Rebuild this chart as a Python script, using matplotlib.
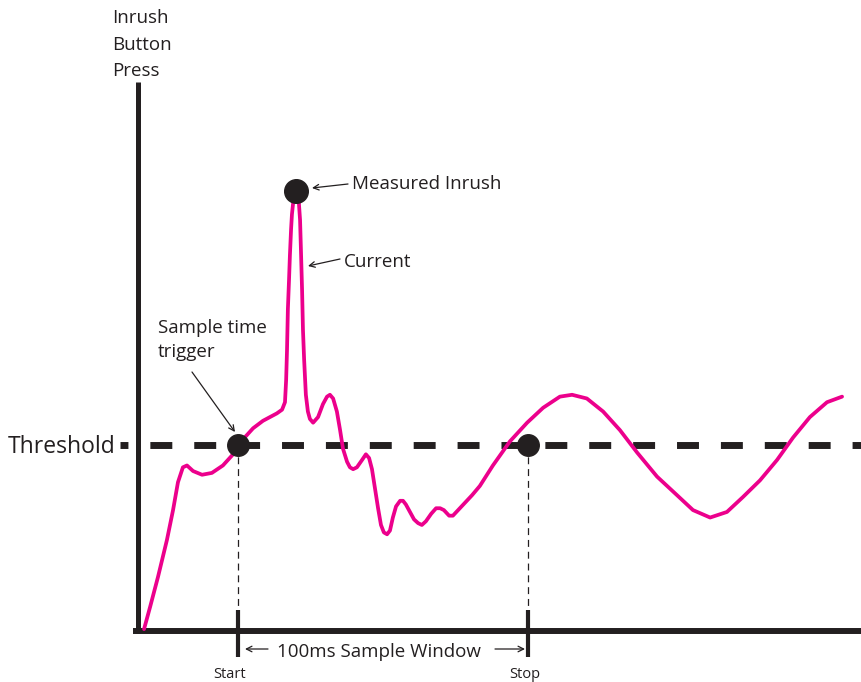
import matplotlib
matplotlib.use('Agg')
import matplotlib.pyplot as plt
import numpy as np

# current trace, time in ms (0 = start of window) and current relative to threshold
time_ms = [-32.4, -30.3, -27.6, -24.5, -22.4, -20.7, -19.0, -17.6, -15.5, -12.4,
           -9.0, -5.2, -1.7, 1.7, 5.2, 8.6, 13.4, 15.2, 16.2, 16.6,
           16.9, 17.2, 17.6, 17.9, 18.3, 18.6, 19.0, 19.7, 20.3, 21.0,
           21.4, 21.7, 22.1, 22.4, 22.8, 23.4, 24.1, 24.8, 25.9, 27.6,
           29.3, 30.7, 31.7, 32.8, 34.1, 35.2, 36.2, 37.6, 38.6, 39.7,
           41.0, 42.8, 44.1, 45.2, 46.2, 47.2, 48.3, 49.3, 50.3, 51.4,
           52.4, 53.4, 54.5, 55.9, 56.9, 57.9, 59.3, 60.7, 62.1, 63.4,
           64.8, 66.6, 68.3, 69.7, 71.0, 72.8, 74.1, 75.9, 78.3, 80.7,
           83.4, 87.9, 93.8, 99.7, 105.2, 111.0, 115.2, 120.3, 125.9, 131.7,
           137.6, 144.5, 151.4, 156.9, 162.8, 168.6, 174.1, 180.0, 185.9, 191.4,
           197.2, 203.1, 208.3]
current = [0.01, 0.13, 0.29, 0.49, 0.65, 0.80, 0.88, 0.89, 0.86, 0.84,
           0.85, 0.89, 0.95, 1.03, 1.09, 1.13, 1.17, 1.19, 1.23, 1.35,
           1.51, 1.73, 1.89, 2.02, 2.16, 2.24, 2.30, 2.33, 2.33, 2.30,
           2.21, 2.05, 1.83, 1.62, 1.46, 1.27, 1.18, 1.14, 1.12, 1.15,
           1.22, 1.26, 1.27, 1.25, 1.18, 1.08, 0.98, 0.91, 0.88, 0.87,
           0.88, 0.92, 0.95, 0.93, 0.87, 0.77, 0.66, 0.57, 0.53, 0.52,
           0.54, 0.61, 0.67, 0.70, 0.70, 0.68, 0.64, 0.60, 0.58, 0.57,
           0.59, 0.63, 0.66, 0.66, 0.65, 0.62, 0.62, 0.65, 0.69, 0.73,
           0.78, 0.89, 1.02, 1.12, 1.20, 1.26, 1.27, 1.25, 1.18, 1.08,
           0.96, 0.83, 0.73, 0.65, 0.61, 0.64, 0.72, 0.81, 0.92, 1.04,
           1.15, 1.23, 1.26]

threshold = 1.0
window_start = 0.0
window_stop = 100.0

PINK = '#EC008C'
INK = '#231F20'
FONT = ['Open Sans', 'DejaVu Sans']

# pixel <-> data mapping so the drawing lines up with the 861x682 canvas
W, H = 861, 682
X0, SX = 238.0, 2.9     # px of t=0, px per ms
Y0, SY = 631.0, 186.0   # px of i=0, px per unit

def px(x, y):
   return ((x - X0) / SX, (Y0 - y) / SY)

plt.rcParams['lines.scale_dashes'] = False
fig = plt.figure(figsize=(W / 100, H / 100), dpi=100)
ax = fig.add_axes([0, 0, 1, 1])
ax.set_xlim(px(0, 0)[0], px(W, 0)[0])
ax.set_ylim(px(0, H)[1], px(0, 0)[1])
ax.axis('off')

# axes of the sketch
a, b = px(138, 82), px(138, 633)
ax.plot([a[0], b[0]], [a[1], b[1]], color=INK, lw=3.6, solid_capstyle='butt')
a, b = px(133, 631), px(W, 631)
ax.plot([a[0], b[0]], [a[1], b[1]], color=INK, lw=4.3, solid_capstyle='butt')

# threshold line
a = px(120, 0)
ax.plot([a[0], px(W, 0)[0]], [threshold, threshold], color=INK, lw=5,
        linestyle=(10.1, (15.8, 15.8)), dash_capstyle='butt')

# start / stop markers
for t in (window_start, window_stop):
   ax.plot([t, t], [threshold, px(0, 607)[1]], color=INK, lw=0.9,
           linestyle=(0, (5, 3.5)))
   ax.plot([t, t], [px(0, 610)[1], px(0, 657)[1]], color=INK, lw=3,
           solid_capstyle='butt')

# current trace
ax.plot(time_ms, current, color=PINK, lw=2.7, solid_joinstyle='round',
        solid_capstyle='round', zorder=3)

# dots
k = int(np.argmax(current))
ax.plot([time_ms[k] + 0.3], [current[k] + 0.035], 'o', color=INK, ms=17, zorder=4)
ax.plot([window_start, window_stop], [threshold, threshold], 'o', color=INK,
        ms=15.5, zorder=4)

# texts
def label(x, y, s, size, ha='left'):
   ax.text(*px(x, y), s, fontsize=size, ha=ha, va='baseline', color=INK,
           family=FONT)

label(112, 23, 'Inrush', 13.5)
label(112, 50, 'Button', 13.5)
label(112, 76, 'Press', 13.5)
label(352, 189, 'Measured Inrush', 13.5)
label(344, 267, 'Current', 13.5)
label(158, 333, 'Sample time', 13.5)
label(158, 357, 'trigger', 13.5)
label(8, 453, 'Threshold', 16.5)
label(277, 657, '100ms Sample Window', 13.5)
label(230, 678, 'Start', 10.5, ha='center')
label(525, 678, 'Stop', 10.5, ha='center')

def arrow(x1, y1, x2, y2):
   ax.annotate('', xy=px(x2, y2), xytext=px(x1, y1),
               arrowprops=dict(arrowstyle='->', color=INK, lw=0.9,
                               mutation_scale=10, shrinkA=0, shrinkB=0))

arrow(348, 184, 312, 188)
arrow(340, 259, 308, 266)
arrow(192, 372, 235, 432)
arrow(268, 649, 245, 649)
arrow(495, 649, 525, 649)

fig.savefig('out.png', dpi=100)
